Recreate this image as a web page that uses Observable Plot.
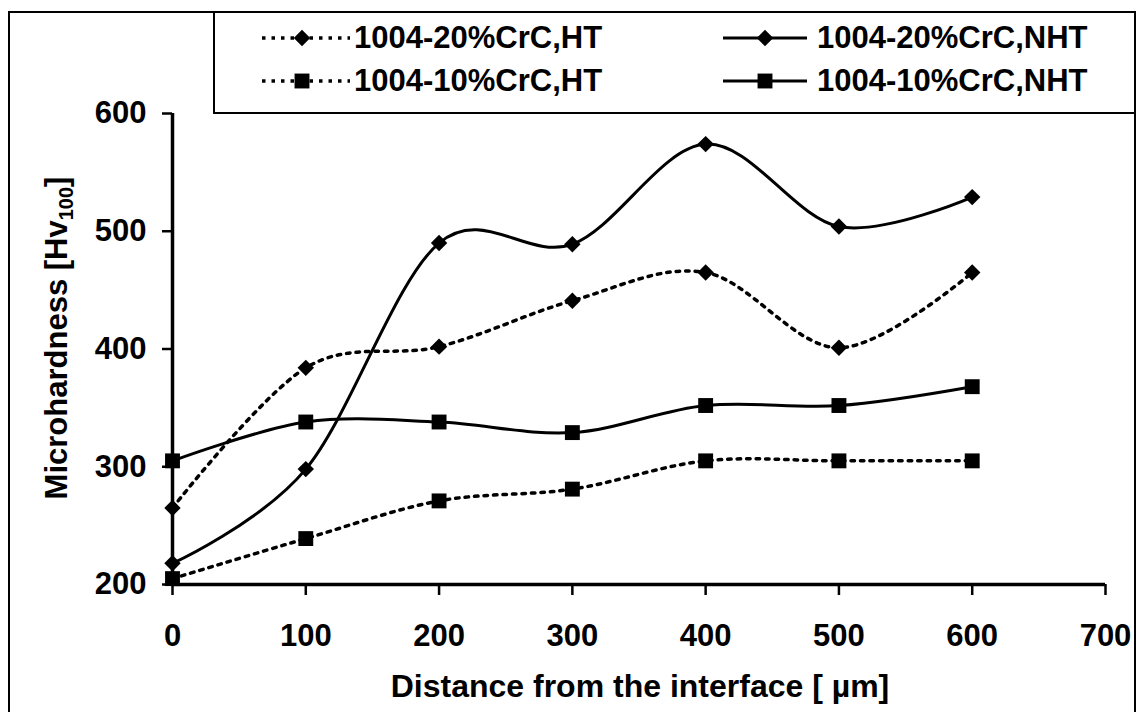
<!DOCTYPE html>
<html>
<head>
<meta charset="utf-8">
<script src="https://cdn.jsdelivr.net/npm/d3@7"></script>
<script src="https://cdn.jsdelivr.net/npm/@observablehq/plot@0.6"></script>
<style>
  html, body { margin: 0; padding: 0; background: #fff; overflow: hidden; }
  #wrap { position: relative; width: 1136px; height: 712px; font-family: "Liberation Sans", Arial, sans-serif; font-weight: bold; }
  #frame { position: absolute; left: 8px; top: 11px; width: 1128px; height: 760px; border: 2px solid #000; box-sizing: border-box; pointer-events: none; }
  #legend { position: absolute; left: 213px; top: 11px; width: 923px; height: 103px; border: 2.5px solid #000; box-sizing: border-box; background: #fff; }
  .item { position: absolute; display: flex; align-items: center; height: 34px; }
  .item span { font-size: 31px; font-weight: bold; color: #000; line-height: 34px; white-space: nowrap; }
  svg text { fill: #000; }
</style>
</head>
<body>
<div id="wrap">
  <div id="chart"></div>
  <div id="frame"></div>
  <div id="legend"></div>
</div>
<script>
// ---- data ----
const distances = [0, 100, 200, 300, 400, 500, 600];
const cr20HT  = [265, 384, 402, 441, 465, 401, 465];
const cr20NHT = [218, 298, 490, 489, 574, 504, 529];
const cr10HT  = [205, 239, 271, 281, 305, 305, 305];
const cr10NHT = [305, 338, 338, 329, 352, 352, 368];

const seriesNames = ["1004-20%CrC,HT", "1004-20%CrC,NHT", "1004-10%CrC,HT", "1004-10%CrC,NHT"];
const seriesValues = [cr20HT, cr20NHT, cr10HT, cr10NHT];
const seriesSymbol = ["diamond2", "diamond2", "square", "square"];
const seriesDotted = [true, false, true, false];

const xTicks = [0, 100, 200, 300, 400, 500, 600, 700];
const yTicks = [200, 300, 400, 500, 600];

const xTitle = "Distance from the interface [ µm]";
const yTitleMain = "Microhardness [Hv";
const yTitleSub = "100";
const yTitleEnd = "]";

// ---- table ----
const rows = [];
seriesNames.forEach((name, i) => {
  distances.forEach((d, j) => rows.push({series: name, x: d, y: seriesValues[i][j], sym: seriesSymbol[i], dotted: seriesDotted[i]}));
});

const symR = {diamond2: 7.4, square: 8.4};
const DASH = "3.5,6";

const marks = [];
seriesNames.forEach((name, i) => {
  const data = rows.filter(r => r.series === name);
  marks.push(Plot.line(data, {
    x: "x", y: "y", curve: "cardinal", stroke: "black",
    strokeWidth: seriesDotted[i] ? 3.5 : 3,
    strokeDasharray: seriesDotted[i] ? DASH : null
  }));
});
marks.push(Plot.ruleX([0], {y1: 200, y2: 600, stroke: "black", strokeWidth: 3.5}));
marks.push(Plot.ruleY([200], {x1: 0, x2: 700, stroke: "black", strokeWidth: 3.5}));
marks.push(Plot.axisX({ticks: xTicks, tickSize: 11, tickPadding: 28, strokeWidth: 2.5, label: null, fontSize: 31, fontWeight: "bold"}));
marks.push(Plot.axisY({ticks: yTicks, tickSize: 10, tickPadding: 16, strokeWidth: 2.5, label: null, fontSize: 31, fontWeight: "bold"}));
["diamond2", "square"].forEach(s => {
  marks.push(Plot.dot(rows.filter(r => r.sym === s), {x: "x", y: "y", symbol: s, r: symR[s], fill: "black", stroke: "none"}));
});

const chart = Plot.plot({
  width: 1136, height: 712,
  marginLeft: 172, marginRight: 31, marginTop: 113, marginBottom: 128,
  x: {domain: [0, 700]},
  y: {domain: [200, 600]},
  style: {fontFamily: "'Liberation Sans', Arial, sans-serif", fontWeight: "bold", fontSize: "31px", background: "white", color: "black", overflow: "visible"},
  marks
});
document.getElementById("chart").appendChild(chart);

// ---- axis titles ----
const svg = d3.select(chart);
svg.append("text")
  .attr("x", 640).attr("y", 697)
  .attr("text-anchor", "middle")
  .attr("font-size", 32).attr("font-weight", "bold")
  .text(xTitle);
const yt = svg.append("text")
  .attr("transform", "translate(67,338) rotate(-90)")
  .attr("text-anchor", "middle")
  .attr("font-size", 31).attr("font-weight", "bold");
yt.append("tspan").text(yTitleMain);
yt.append("tspan").attr("font-size", 20).attr("dy", 6).text(yTitleSub);
yt.append("tspan").attr("dy", -6).text(yTitleEnd);

// ---- legend ----
const legend = d3.select("#legend");
const legendPos = [
  {left: 47, top: 8, sw: 88},
  {left: 508, top: 8, sw: 84},
  {left: 47, top: 51, sw: 88},
  {left: 508, top: 51, sw: 84}
];
seriesNames.forEach((name, i) => {
  const p = legendPos[i];
  const item = legend.append("div").attr("class", "item").style("left", p.left + "px").style("top", p.top + "px");
  const s = item.append("svg").attr("width", p.sw).attr("height", 34).style("margin-right", seriesDotted[i] ? "4px" : "10px");
  s.append("line").attr("x1", 0).attr("x2", p.sw).attr("y1", 17).attr("y2", 17)
    .attr("stroke", "black").attr("stroke-width", seriesDotted[i] ? 3.5 : 3)
    .attr("stroke-dasharray", seriesDotted[i] ? DASH : null);
  const r = symR[seriesSymbol[i]];
  const sym = seriesSymbol[i] === "square" ? d3.symbolSquare : d3.symbolDiamond2;
  s.append("path").attr("transform", `translate(${p.sw / 2 + (seriesDotted[i] ? -4 : 0)},17)`)
    .attr("d", d3.symbol(sym, r * r * Math.PI)()).attr("fill", "black");
  item.append("span").text(name);
});
</script>
</body>
</html>
